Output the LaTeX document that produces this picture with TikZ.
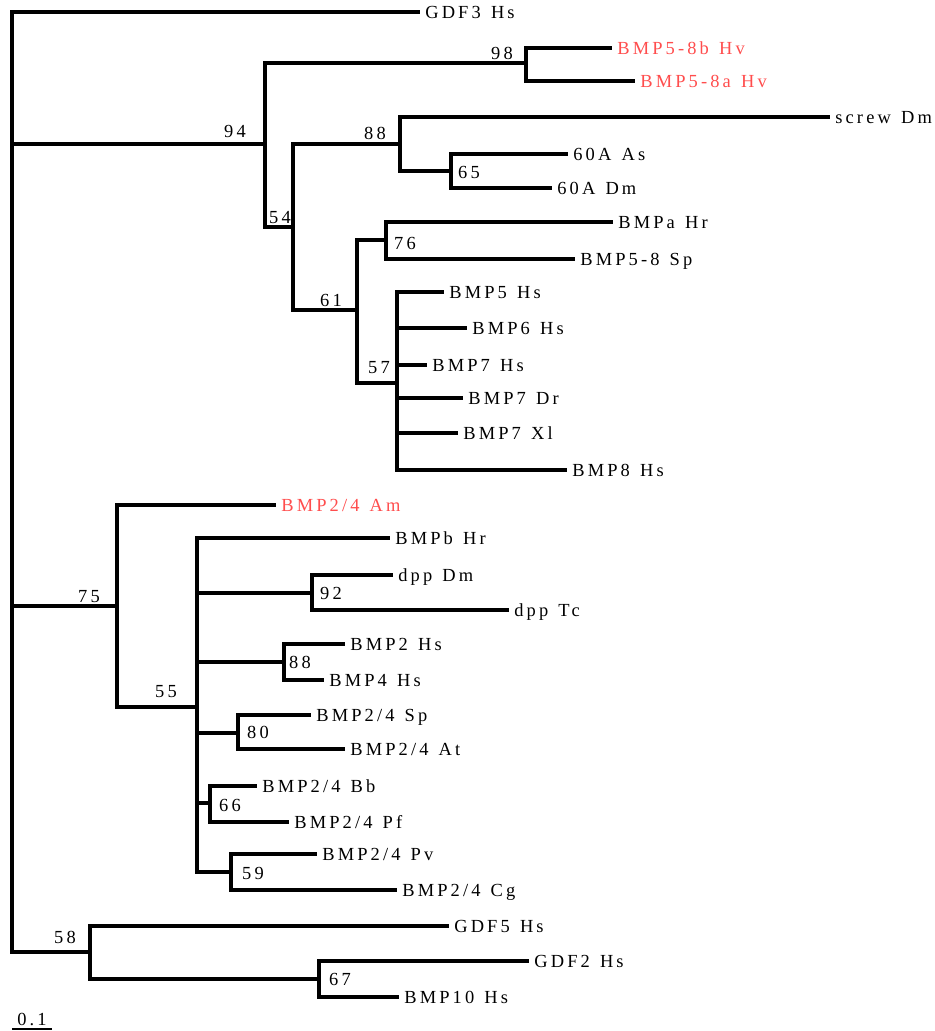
\documentclass[tikz,border=0pt]{standalone}
\usepackage{fontspec}
\setmainfont{Liberation Serif}
\newfontfamily\treefont[LetterSpace=17]{Liberation Serif}
\definecolor{hvred}{RGB}{255,77,77}
\newcommand\gap{\hspace{0.55em}}

\begin{document}
\begin{tikzpicture}[x=0.02cm, y=-0.02cm,
    branch/.style={line width=2.27pt, line cap=rect},
    taxon/.style={anchor=west, inner xsep=0.14cm, inner ysep=0pt, text height=7pt, text depth=0pt, font=\treefont\fontsize{10.5}{12}\selectfont},
    redtaxon/.style={taxon, text=hvred},
    boot/.style={inner sep=0pt, font=\treefont\fontsize{10.5}{12}\selectfont}]
        \useasboundingbox (0,0) rectangle (935,1031);

        \coordinate (root) at (12,480);
        \coordinate (n94) at (265,144);
        \coordinate (n98) at (526,63);
        \coordinate (n54) at (293,227);
        \coordinate (n88a) at (400,144);
        \coordinate (n65) at (451,171);
        \coordinate (n61) at (357,310);
        \coordinate (n76) at (386,240);
        \coordinate (n57) at (397,383);
        \coordinate (n75) at (117,606);
        \coordinate (n55) at (197,707);
        \coordinate (n92) at (312,593);
        \coordinate (n88b) at (284,662);
        \coordinate (n80) at (238,733);
        \coordinate (n66) at (210,803);
        \coordinate (n59) at (231,872);
        \coordinate (n58) at (90,952);
        \coordinate (n67) at (319,979);

        \node[taxon] (gdf3) at (418,12) {GDF3\gap Hs};
        \node[redtaxon] (bmp58b) at (610,48) {BMP5-8b\gap Hv};
        \node[redtaxon] (bmp58a) at (633,81) {BMP5-8a\gap Hv};
        \node[taxon] (screw) at (828,117) {screw\gap Dm};
        \node[taxon] (a60as) at (566,154) {60A\gap As};
        \node[taxon] (a60dm) at (550,188) {60A\gap Dm};
        \node[taxon] (bmpa) at (611,222) {BMPa\gap Hr};
        \node[taxon] (bmp58sp) at (573,259) {BMP5-8\gap Sp};
        \node[taxon] (bmp5) at (442,292) {BMP5\gap Hs};
        \node[taxon] (bmp6) at (465,328) {BMP6\gap Hs};
        \node[taxon] (bmp7hs) at (425,365) {BMP7\gap Hs};
        \node[taxon] (bmp7dr) at (461,398) {BMP7\gap Dr};
        \node[taxon] (bmp7xl) at (456,433) {BMP7\gap Xl};
        \node[taxon] (bmp8) at (565,470) {BMP8\gap Hs};
        \node[redtaxon] (am) at (274,505) {BMP2/4\gap Am};
        \node[taxon] (bmpb) at (388,538) {BMPb\gap Hr};
        \node[taxon] (dppdm) at (391,575) {dpp\gap Dm};
        \node[taxon] (dpptc) at (507,610) {dpp\gap Tc};
        \node[taxon] (bmp2) at (343,644) {BMP2\gap Hs};
        \node[taxon] (bmp4) at (322,680) {BMP4\gap Hs};
        \node[taxon] (sp) at (309,715) {BMP2/4\gap Sp};
        \node[taxon] (at) at (343,749) {BMP2/4\gap At};
        \node[taxon] (bb) at (255,786) {BMP2/4\gap Bb};
        \node[taxon] (pf) at (287,822) {BMP2/4\gap Pf};
        \node[taxon] (pv) at (315,854) {BMP2/4\gap Pv};
        \node[taxon] (cg) at (395,890) {BMP2/4\gap Cg};
        \node[taxon] (gdf5) at (447,926) {GDF5\gap Hs};
        \node[taxon] (gdf2) at (527,961) {GDF2\gap Hs};
        \node[taxon] (bmp10) at (397,997) {BMP10\gap Hs};

        \draw[branch] (root) |- (gdf3.west) (root) |- (n94) (root) |- (n75) (root) |- (n58);
        \draw[branch] (n94) |- (n98) (n94) |- (n54);
        \draw[branch] (n98) |- (bmp58b.west) (n98) |- (bmp58a.west);
        \draw[branch] (n54) |- (n88a) (n54) |- (n61);
        \draw[branch] (n88a) |- (screw.west) (n88a) |- (n65);
        \draw[branch] (n65) |- (a60as.west) (n65) |- (a60dm.west);
        \draw[branch] (n61) |- (n76) (n61) |- (n57);
        \draw[branch] (n76) |- (bmpa.west) (n76) |- (bmp58sp.west);
        \draw[branch] (n57) |- (bmp5.west) (n57) |- (bmp6.west) (n57) |- (bmp7hs.west);
        \draw[branch] (n57) |- (bmp7dr.west) (n57) |- (bmp7xl.west) (n57) |- (bmp8.west);
        \draw[branch] (n75) |- (am.west) (n75) |- (n55);
        \draw[branch] (n55) |- (bmpb.west) (n55) |- (n92) (n55) |- (n88b);
        \draw[branch] (n55) |- (n80) (n55) |- (n66) (n55) |- (n59);
        \draw[branch] (n92) |- (dppdm.west) (n92) |- (dpptc.west);
        \draw[branch] (n88b) |- (bmp2.west) (n88b) |- (bmp4.west);
        \draw[branch] (n80) |- (sp.west) (n80) |- (at.west);
        \draw[branch] (n66) |- (bb.west) (n66) |- (pf.west);
        \draw[branch] (n59) |- (pv.west) (n59) |- (cg.west);
        \draw[branch] (n58) |- (gdf5.west) (n58) |- (n67);
        \draw[branch] (n67) |- (gdf2.west) (n67) |- (bmp10.west);

        \node[boot] (b94) at (235,131) {94};
        \node[boot] (b98) at (502,53) {98};
        \node[boot] (b88a) at (375,133) {88};
        \node[boot] (b54) at (280,218) {54};
        \node[boot] (b65) at (469,172) {65};
        \node[boot] (b61) at (331,300) {61};
        \node[boot] (b76) at (405,243) {76};
        \node[boot] (b57) at (379,368) {57};
        \node[boot] (b75) at (89,597) {75};
        \node[boot] (b55) at (166,692) {55};
        \node[boot] (b92) at (331,593) {92};
        \node[boot] (b88b) at (300,662) {88};
        \node[boot] (b80) at (258,732) {80};
        \node[boot] (b66) at (230,805) {66};
        \node[boot] (b59) at (253,873) {59};
        \node[boot] (b58) at (65,937) {58};
        \node[boot] (b67) at (340,979) {67};

        \coordinate (sbl) at (12,1029);
        \coordinate (sbr) at (52,1029);
        \draw[line width=1.1pt] (sbl) -- (sbr);
        \node[boot] (sblabel) at (32,1019) {0.1};
\end{tikzpicture}
\end{document}
